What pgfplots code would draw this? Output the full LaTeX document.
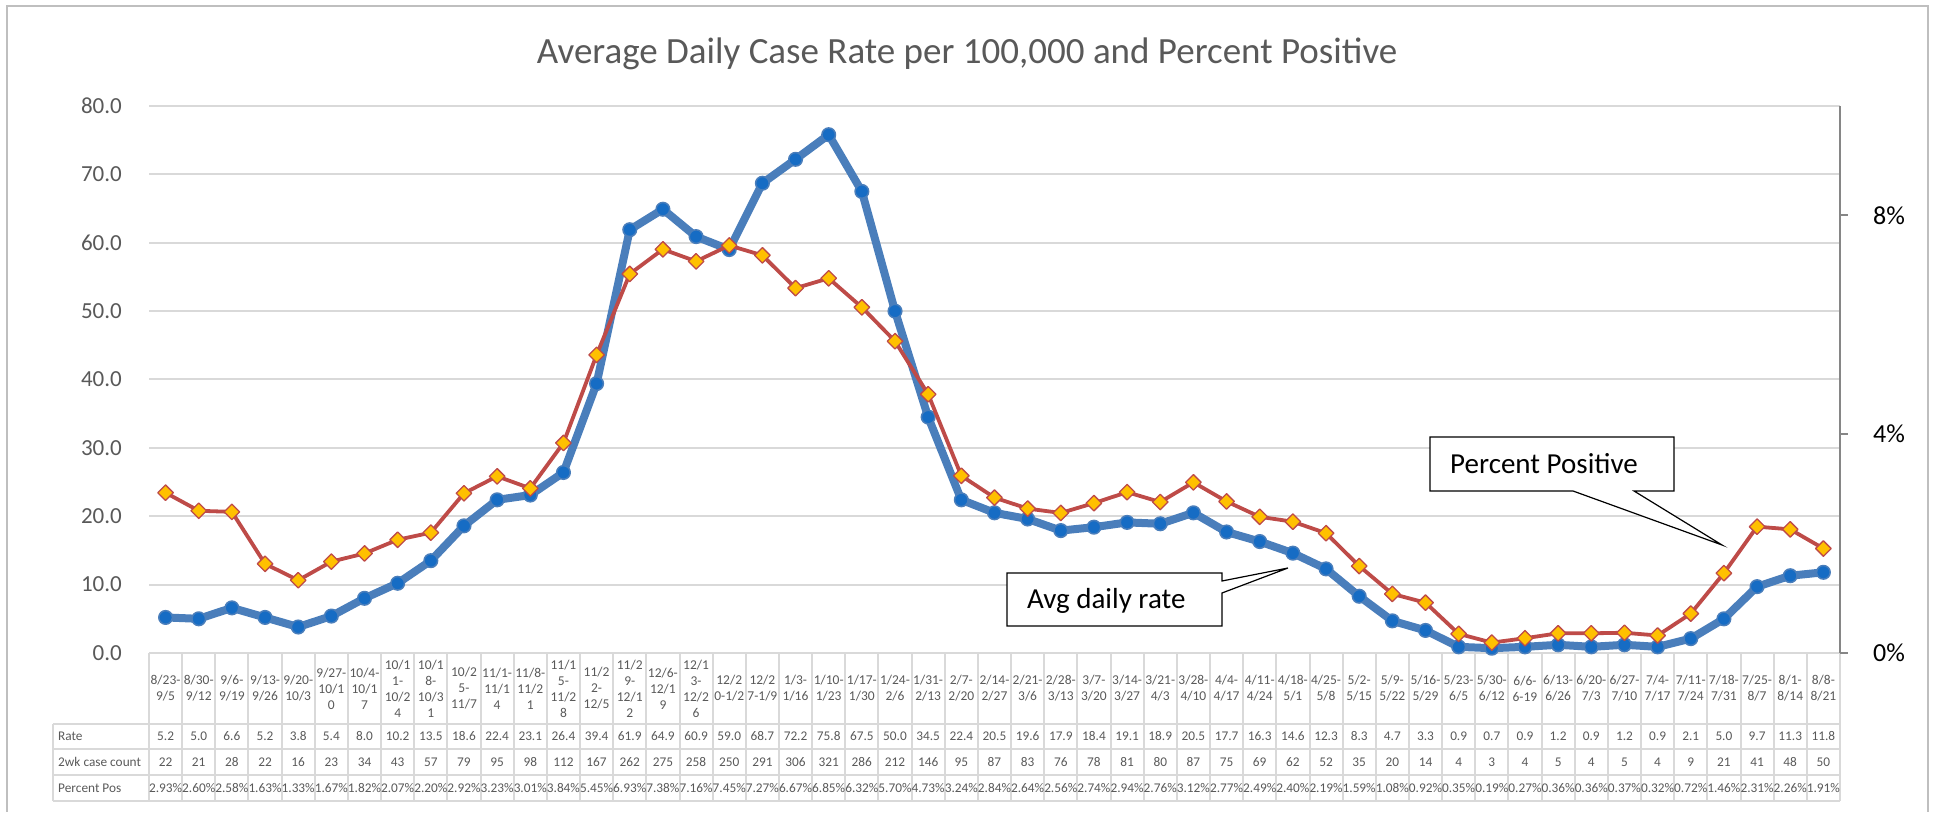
\documentclass[border=0pt]{standalone}
\usepackage{fontspec}
\setmainfont{Carlito}
\usepackage{pgfplots}
\usepackage{pgfplotstable}
\pgfplotsset{compat=1.18}

\definecolor{gridgray}{RGB}{217,217,217}
\definecolor{framegray}{RGB}{191,191,191}
\definecolor{axisgray}{RGB}{134,134,134}
\definecolor{txtgray}{RGB}{89,89,89}
\definecolor{blueline}{RGB}{74,126,187}
\definecolor{bluemark}{RGB}{22,108,196}
\definecolor{redline}{RGB}{190,75,72}
\definecolor{gold}{RGB}{255,192,0}

\pgfplotstableread{
idx rate count pct
0 5.2 22 2.93
1 5.0 21 2.60
2 6.6 28 2.58
3 5.2 22 1.63
4 3.8 16 1.33
5 5.4 23 1.67
6 8.0 34 1.82
7 10.2 43 2.07
8 13.5 57 2.20
9 18.6 79 2.92
10 22.4 95 3.23
11 23.1 98 3.01
12 26.4 112 3.84
13 39.4 167 5.45
14 61.9 262 6.93
15 64.9 275 7.38
16 60.9 258 7.16
17 59.0 250 7.45
18 68.7 291 7.27
19 72.2 306 6.67
20 75.8 321 6.85
21 67.5 286 6.32
22 50.0 212 5.70
23 34.5 146 4.73
24 22.4 95 3.24
25 20.5 87 2.84
26 19.6 83 2.64
27 17.9 76 2.56
28 18.4 78 2.74
29 19.1 81 2.94
30 18.9 80 2.76
31 20.5 87 3.12
32 17.7 75 2.77
33 16.3 69 2.49
34 14.6 62 2.40
35 12.3 52 2.19
36 8.3 35 1.59
37 4.7 20 1.08
38 3.3 14 0.92
39 0.9 4 0.35
40 0.7 3 0.19
41 0.9 4 0.27
42 1.2 5 0.36
43 0.9 4 0.36
44 1.2 5 0.37
45 0.9 4 0.32
46 2.1 9 0.72
47 5.0 21 1.46
48 9.7 41 2.31
49 11.3 48 2.26
50 11.8 50 1.91
}\datatable

\begin{document}
\begin{tikzpicture}
\path (0pt,0pt) rectangle (1933pt,812pt);
% outer frame
\draw[framegray, line width=2pt] (7pt,0pt) -- (7pt,806pt) -- (1928pt,806pt) -- (1928pt,0pt);
% data table grid
\foreach \k in {0,...,51}{
  \draw[gridgray, line width=2pt] ({(149+33.157*\k)*1pt},159pt) -- ({(149+33.157*\k)*1pt},11pt);
}
\draw[gridgray, line width=2pt] (53pt,88pt) -- (53pt,11pt);
\foreach \yy in {88,63,37,11}{
  \draw[gridgray, line width=2pt] (53pt,\yy pt) -- (1840pt,\yy pt);
}
\node[anchor=west, text=txtgray, font=\fontsize{13.3}{16}\selectfont, inner sep=0pt] at (58pt,75.5pt) {Rate};
\node[anchor=west, text=txtgray, font=\fontsize{13.3}{16}\selectfont, inner sep=0pt] at (58pt,50pt) {2wk case count};
\node[anchor=west, text=txtgray, font=\fontsize{13.3}{16}\selectfont, inner sep=0pt] at (58pt,24pt) {Percent Pos};
% title
\node[anchor=base, text=txtgray, font=\fontsize{37}{44}\selectfont, inner sep=0pt] at (967pt,748pt) {Average Daily Case Rate per 100,000 and Percent Positive};

\begin{axis}[
  at={(149pt,159pt)}, anchor=south west,
  width=1691pt, height=547pt, scale only axis,
  xmin=-0.5, xmax=50.5, ymin=0, ymax=80,
  clip=false,
  axis line style={draw=none},
  ymajorgrids, grid style={gridgray, line width=2pt},
  ytick={0,10,...,80},
  yticklabels={0.0,10.0,20.0,30.0,40.0,50.0,60.0,70.0,80.0},
  yticklabel style={font=\fontsize{23}{27}\selectfont, text=txtgray, anchor=east, inner sep=0pt, xshift=-27pt},
  major tick length=0pt,
  xtick={0,...,50},
  xticklabels={{8/23-\\9/5},{8/30-\\9/12},{9/6-\\9/19},{9/13-\\9/26},{9/20-\\10/3},{9/27-\\10/1\\0},{10/4-\\10/1\\7},{10/1\\1-\\10/2\\4},{10/1\\8-\\10/3\\1},{10/2\\5-\\11/7},{11/1-\\11/1\\4},{11/8-\\11/2\\1},{11/1\\5-\\11/2\\8},{11/2\\2-\\12/5},{11/2\\9-\\12/1\\2},{12/6-\\12/1\\9},{12/1\\3-\\12/2\\6},{12/2\\0-1/2},{12/2\\7-1/9},{1/3-\\1/16},{1/10-\\1/23},{1/17-\\1/30},{1/24-\\2/6},{1/31-\\2/13},{2/7-\\2/20},{2/14-\\2/27},{2/21-\\3/6},{2/28-\\3/13},{3/7-\\3/20},{3/14-\\3/27},{3/21-\\4/3},{3/28-\\4/10},{4/4-\\4/17},{4/11-\\4/24},{4/18-\\5/1},{4/25-\\5/8},{5/2-\\5/15},{5/9-\\5/22},{5/16-\\5/29},{5/23-\\6/5},{5/30-\\6/12},{6/6-\\6-19},{6/13-\\6/26},{6/20-\\7/3},{6/27-\\7/10},{7/4-\\7/17},{7/11-\\7/24},{7/18-\\7/31},{7/25-\\8/7},{8/1-\\8/14},{8/8-\\8/21}},
  xticklabel style={font=\fontsize{13.5}{16}\selectfont, text=txtgray, align=center, anchor=center, inner sep=0pt, yshift=-35.5pt},
]
\addplot[blueline, line width=8pt, line join=round, mark=*, mark size=6.8pt,
  mark options={fill=bluemark, draw=blueline, line width=1.5pt}]
  table[x=idx, y=rate]{\datatable};
\addplot[draw=none, mark=none, nodes near coords, point meta=explicit symbolic,
  every node near coord/.append style={anchor=center, font=\fontsize{13.3}{16}\selectfont, text=txtgray, inner sep=0pt}]
  table[x=idx, y expr=-12.21, meta=rate]{\datatable};
\addplot[draw=none, mark=none, nodes near coords, point meta=explicit symbolic,
  every node near coord/.append style={anchor=center, font=\fontsize{13.3}{16}\selectfont, text=txtgray, inner sep=0pt}]
  table[x=idx, y expr=-15.94, meta=count]{\datatable};
\addplot[draw=none, mark=none, nodes near coords={\pgfplotspointmeta\%}, point meta=explicit symbolic,
  every node near coord/.append style={anchor=center, font=\fontsize{13.3}{16}\selectfont, text=txtgray, inner sep=0pt}]
  table[x=idx, y expr=-19.74, meta=pct]{\datatable};
\end{axis}

\begin{axis}[
  at={(149pt,159pt)}, anchor=south west,
  width=1691pt, height=547pt, scale only axis,
  xmin=-0.5, xmax=50.5, ymin=0, ymax=10,
  clip=false,
  axis x line=none, axis y line*=right,
  axis line style={axisgray, line width=2pt},
  ytick={0,4,8}, yticklabels={0\%,4\%,8\%},
  ytick style={axisgray, line width=2pt},
  tick align=outside, major tick length=8pt,
  yticklabel style={font=\fontsize{26}{30}\selectfont, text=black, anchor=west, inner sep=0pt, xshift=25pt},
]
\addplot[redline, line width=3.8pt, line join=round, mark=square*, mark size=5.5pt,
  mark options={rotate=45, fill=gold, draw=redline, line width=1.3pt}]
  table[x=idx, y=pct]{\datatable};
\end{axis}

% callouts
\draw[black, line width=1.2pt, fill=white] (1430pt,375pt) -- (1674pt,375pt) -- (1674pt,321pt) -- (1634pt,321pt) -- (1722pt,267pt) -- (1573pt,321pt) -- (1430pt,321pt) -- cycle;
\node[anchor=base west, inner sep=0pt, font=\fontsize{29}{34}\selectfont] at (1450pt,338pt) {Percent Positive};
\draw[black, line width=1.2pt, fill=white] (1007pt,239pt) -- (1222pt,239pt) -- (1222pt,231pt) -- (1288pt,244pt) -- (1222pt,219pt) -- (1222pt,186pt) -- (1007pt,186pt) -- cycle;
\node[anchor=base west, inner sep=0pt, font=\fontsize{29}{34}\selectfont] at (1027pt,203pt) {Avg daily rate};
\end{tikzpicture}
\end{document}
